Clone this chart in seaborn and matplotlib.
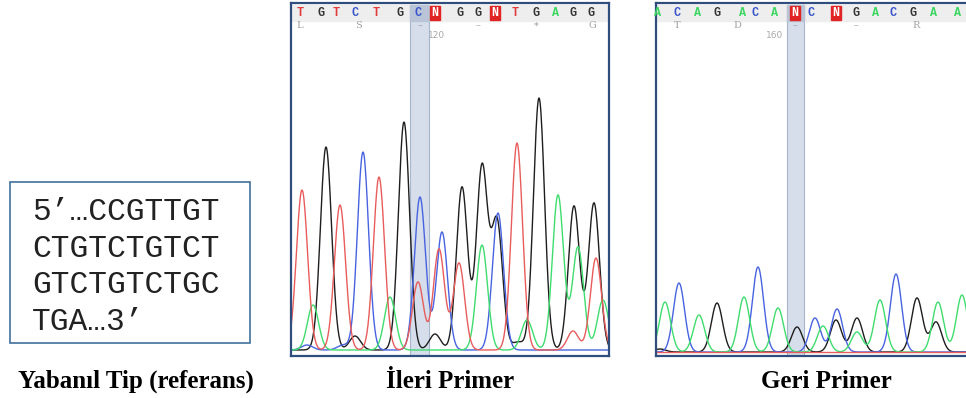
import numpy as np
import pandas as pd
import matplotlib.pyplot as plt
import seaborn as sns
from matplotlib.patches import Rectangle

# wild type reference sequence
ref_lines = ["5’…CCGTTGT", "CTGTCTGTCT", "GTCTGTCTGC", "TGA…3’"]
titles = ["Yabanıl Tip (referans)", "İleri Primer", "Geri Primer"]

# forward primer: base calls and amino acid row
fwd_bases = ["T", "G", "T", "C", "T", "G", "C", "N", "G", "G", "N", "T", "G", "A", "G", "G"]
fwd_base_x = [300, 321, 336, 355, 376, 400, 418, 435, 460, 478, 495, 515, 536, 555, 573, 591]
fwd_aa = ["L", "S", "–", "–", "*", "G"]
fwd_aa_x = [300, 358, 420, 478, 536, 592]
fwd_pos_label = "120"
fwd_pos_x = 437

# forward primer peaks: (position, height)
fwd_T = [(302, 160), (340, 145), (379, 173), (418, 68), (439, 101), (459, 87),
         (517, 207), (573, 19), (596, 92)]
fwd_A = [(313, 45), (390, 53), (482, 105), (527, 30), (558, 155), (578, 103), (603, 50)]
fwd_C = [(307, 5), (343, 5), (363, 198), (420, 153), (442, 118), (498, 137)]
fwd_G = [(326, 203), (355, 14), (404, 228), (435, 16), (462, 163), (482, 183),
         (497, 128), (518, 8), (539, 252), (574, 144), (594, 147)]

# reverse primer
rev_bases = ["A", "C", "A", "G", "A", "C", "A", "N", "C", "N", "G", "A", "C", "G", "A", "A"]
rev_base_x = [658, 677, 698, 717, 743, 755, 775, 795, 811, 836, 856, 876, 893, 913, 934, 958]
rev_aa = ["T", "D", "–", "–", "R"]
rev_aa_x = [677, 737, 795, 856, 916]
rev_pos_label = "160"
rev_pos_x = 775

rev_T = []
rev_A = [(665, 50), (699, 37), (744, 55), (778, 44), (823, 26), (857, 20),
         (880, 52), (938, 50), (962, 57)]
rev_C = [(679, 69), (758, 85), (815, 34), (837, 43), (896, 78)]
rev_G = [(660, 3), (717, 49), (797, 25), (836, 32), (857, 34), (917, 54), (936, 30)]

trace_colors = {"T": "#e85c5c", "A": "#3fdc6e", "C": "#4863e0", "G": "#1e1e1e"}
call_colors = {"T": "#e03a3a", "A": "#3ad660", "C": "#3a55cc", "G": "#333333"}

W, H = 966, 398
fig = plt.figure(figsize=(W / 100, H / 100), dpi=100)
sns.set_style("white")


def fig_box(x0, y0, x1, y1):
    return [x0 / W, 1 - y1 / H, (x1 - x0) / W, (y1 - y0) / H]


def trace_frame(x0, x1, peaks, sigma=5.6):
    pos = np.arange(x0, x1, 0.5)
    rows = []
    for base, plist in peaks.items():
        sig = np.zeros_like(pos)
        for c, h in plist:
            sig += h * np.exp(-(pos - c) ** 2 / (2 * sigma ** 2))
        rows.append(pd.DataFrame({"pos": pos, "signal": sig, "base": base}))
    return pd.concat(rows, ignore_index=True)


def draw_panel(box, base, peaks, bases, base_x, aa, aa_x, pos_label, pos_x, hl):
    x0, y0, x1, y1 = box
    ax = fig.add_axes(fig_box(*box))
    sy = lambda yp: base - yp
    # header band and highlighted column
    ax.add_patch(Rectangle((x0, sy(21)), x1 - x0, 16, color="#eeeeee", zorder=0))
    ax.add_patch(Rectangle((hl[0], sy(y1)), hl[1] - hl[0], y1 - 5,
                           facecolor="#d5deea", edgecolor="#a7b6cc", lw=0.8, zorder=0))
    ax.add_patch(Rectangle((hl[0], sy(21)), hl[1] - hl[0], 16, color="#b9c5d7", zorder=0))

    df = trace_frame(x0, x1, peaks)
    sns.lineplot(data=df, x="pos", y="signal", hue="base", palette=trace_colors,
                 hue_order=["G", "C", "A", "T"], estimator=None, errorbar=None,
                 sort=False, legend=False, linewidth=1.0, ax=ax)

    for b, bx in zip(bases, base_x):
        if b == "N":
            ax.add_patch(Rectangle((bx - 5, sy(20)), 10, 14, color="#e02424", zorder=2))
            col = "white"
        else:
            col = call_colors[b]
        ax.text(bx, sy(13), b, color=col, fontsize=8.5, fontweight="bold",
                family="Liberation Mono", ha="center", va="center", zorder=3)
    for a, axx in zip(aa, aa_x):
        ax.text(axx, sy(26), a, color="#a0a0a0", fontsize=7,
                family="DejaVu Serif", ha="center", va="center")
    ax.text(pos_x, sy(35), pos_label, color="#a8a8a8", fontsize=6.5,
            ha="center", va="center")

    ax.set_xlim(x0, x1)
    ax.set_ylim(sy(y1), sy(y0))
    ax.set_xticks([])
    ax.set_yticks([])
    ax.set_xlabel("")
    ax.set_ylabel("")
    for s in ax.spines.values():
        s.set_color("#2f4e7e")
        s.set_linewidth(1.6)
    return ax


draw_panel((291, 3, 609, 356), 350, {"T": fwd_T, "A": fwd_A, "C": fwd_C, "G": fwd_G},
           fwd_bases, fwd_base_x, fwd_aa, fwd_aa_x, fwd_pos_label, fwd_pos_x, (410, 429))
draw_panel((656, 3, 976, 356), 352, {"T": rev_T, "A": rev_A, "C": rev_C, "G": rev_G},
           rev_bases, rev_base_x, rev_aa, rev_aa_x, rev_pos_label, rev_pos_x, (787, 804))

# reference sequence box
fig.patches.append(Rectangle((10 / W, 1 - 343 / H), 240 / W, 161 / H, transform=fig.transFigure,
                             facecolor="none", edgecolor="#41719c", lw=1.2))
for i, line in enumerate(ref_lines):
    fig.text(32 / W, 1 - (212 + 36.7 * i) / H, line, family="Liberation Mono",
             fontsize=22.5, ha="left", va="center", color="#222222")

for t, cx in zip(titles, [136, 450, 826]):
    fig.text(cx / W, 1 - 381 / H, t, family="Liberation Serif", fontweight="bold",
             fontsize=18, ha="center", va="center", color="black")

fig.savefig("out.png", dpi=100, facecolor="white")
